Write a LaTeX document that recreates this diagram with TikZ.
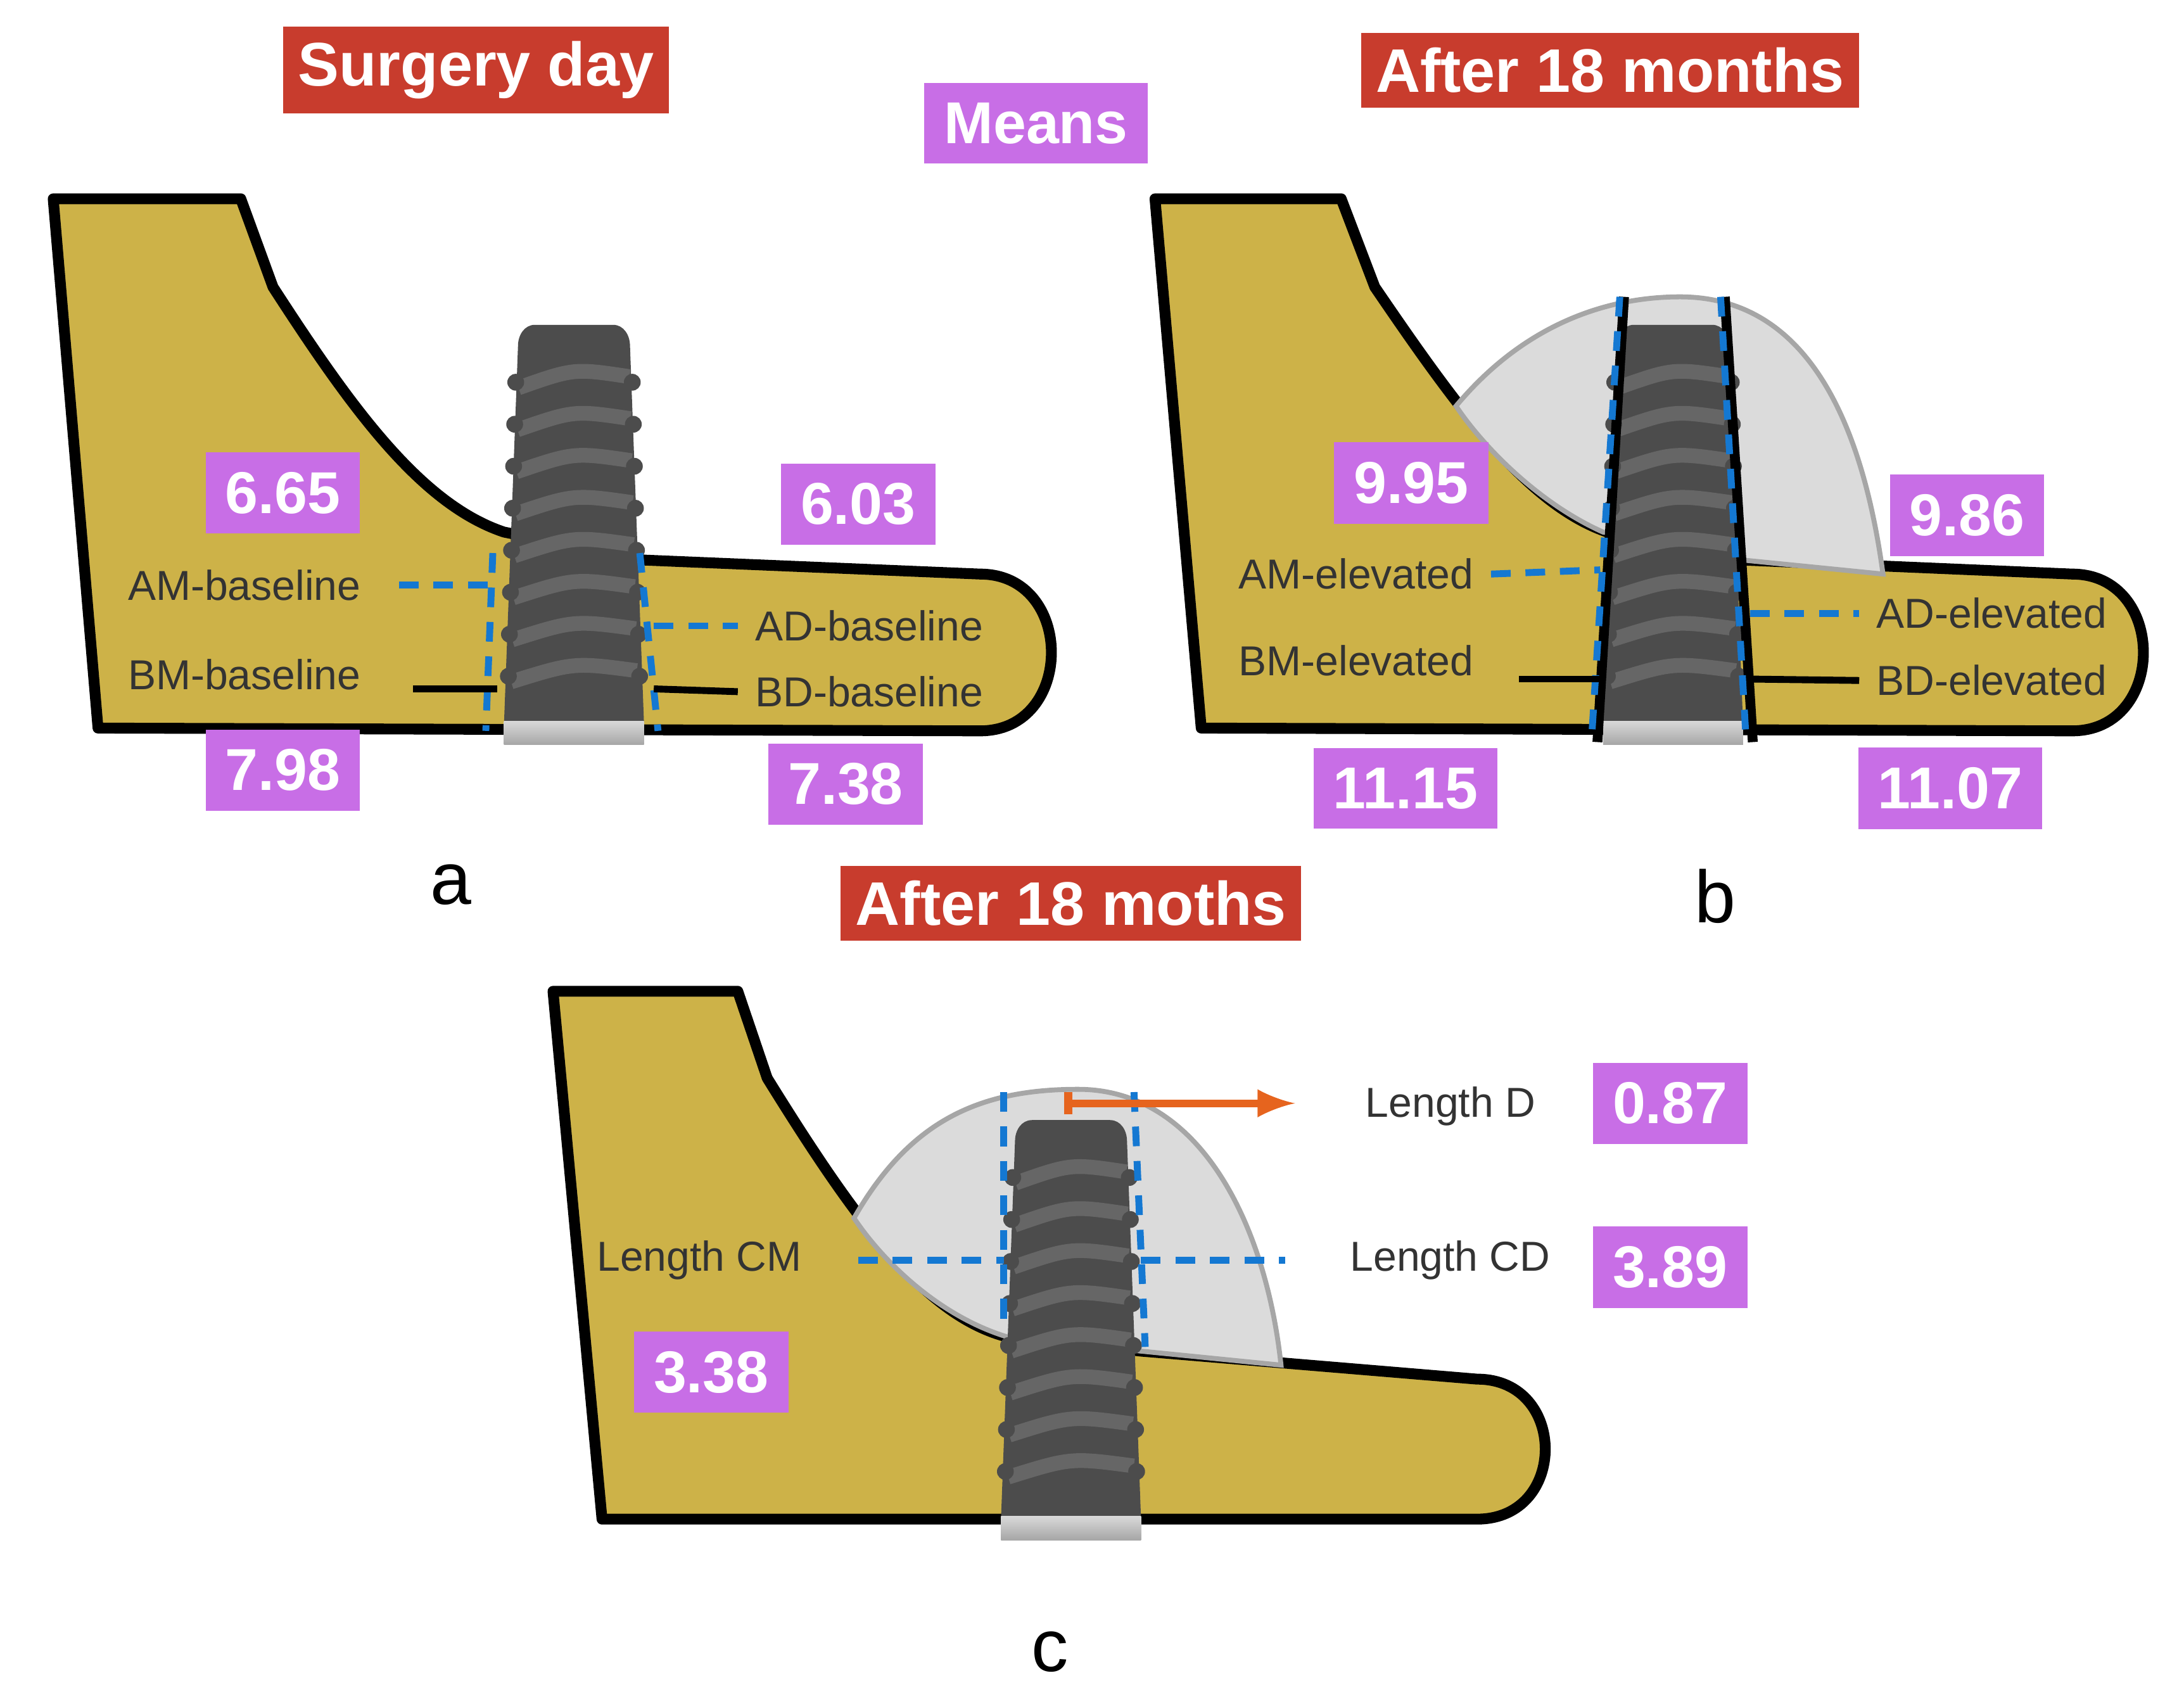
\documentclass[tikz,border=0pt]{standalone}
\usepackage{fontspec}
\setmainfont{Liberation Sans}
\definecolor{orng}{RGB}{230,100,30}
\definecolor{bonec}{RGB}{205,178,72}
\definecolor{purp}{RGB}{200,110,230}
\definecolor{redc}{RGB}{200,60,45}
\definecolor{blued}{RGB}{20,120,210}
\begin{document}
\begin{tikzpicture}[x=0.01cm,y=-0.01cm,
 bone/.style={fill=bonec,draw=black,line width=2.2pt,line join=round},
 mound/.style={fill=gray!28,draw=gray!70,line width=1pt},
 pbox/.style={fill=purp,text=white,font=\fontsize{12}{14}\selectfont\bfseries,inner sep=4pt,minimum height=15pt},
 rbox/.style={fill=redc,text=white,font=\fontsize{12.5}{14}\selectfont\bfseries,inner sep=3pt,minimum height=14pt},
 lbl/.style={font=\fontsize{8.5}{10}\selectfont,text=black!80},
 bd/.style={draw=blued,line width=1.4pt,dash pattern=on 4pt off 3pt},
 bl/.style={draw=black,line width=1.4pt},
 letter/.style={font=\fontsize{15}{17}\selectfont},
 implant/.pic={
   \fill[gray!60!black] (-50,-15) -- (-40,-285) to[out=90,in=180] (-28,-300) -- (28,-300) to[out=0,in=90] (40,-285) -- (50,-15) -- cycle;
   \foreach \t in {-45,-75,...,-280}{
     \draw[gray!80!black,line width=3pt] (-46-\t/40,\t) .. controls (0,\t-14) .. (46+\t/40,\t-8);
     \fill[gray!60!black] (-48-\t/40,\t-4) circle (6);
     \fill[gray!60!black] (48+\t/40,\t-4) circle (6);
   }
   \shade[top color=gray!30,bottom color=gray!70] (-50,-17) rectangle (50,0);
 }]
\useasboundingbox (0,0) rectangle (1560,1217);
% ---------- panel a
\draw[bone] (38,142) -- (172,142) -- (195,205) .. controls (250,290) and (300,360) .. (360,380) -- (460,400) -- (700,410) .. controls (768,410) and (768,522) .. (700,522) -- (70,520) -- cycle;
\pic at (410,532) {implant};
\coordinate (a1) at (352,395); \coordinate (a2) at (347,522);
\coordinate (a3) at (457,395); \coordinate (a4) at (470,522);
\draw[bd] (a1)--(a2); \draw[bd] (a3)--(a4);
\node[lbl,anchor=east] (amb) at (270,418) {AM-baseline};
\node[lbl,anchor=east] (bmb) at (270,482) {BM-baseline};
\node[lbl,anchor=west] (adb) at (527,447) {AD-baseline};
\node[lbl,anchor=west] (bdb) at (527,494) {BD-baseline};
\coordinate (a5) at (355,418); \coordinate (a6) at (355,492);
\coordinate (a7) at (467,447); \coordinate (a8) at (467,492);
\draw[bd] (285,418) -- (a5); \draw[bd] (a7) -- (adb.west);
\draw[bl] (295,492) -- (a6); \draw[bl] (a8) -- (bdb.west);
\node[pbox] (n1) at (202,352) {6.65};
\node[pbox] (n2) at (613,360) {6.03};
\node[pbox] (n3) at (202,550) {7.98};
\node[pbox] (n4) at (604,560) {7.38};
\node[rbox] (t1) at (340,50) {Surgery day};
\node[pbox] (t2) at (740,88) {Means};
\node[letter] (la) at (322,632) {a};
% ---------- panel b
\draw[bone] (825,142) -- (958,142) -- (982,205) .. controls (1040,290) and (1090,360) .. (1148,380) -- (1245,400) -- (1480,410) .. controls (1548,410) and (1548,522) .. (1480,522) -- (858,520) -- cycle;
\draw[mound] (1040,290) .. controls (1090,230) and (1150,212) .. (1200,212) .. controls (1290,212) and (1330,300) .. (1345,410) -- (1245,400) -- (1145,380) .. controls (1100,360) and (1060,320) .. (1040,290) -- cycle;
\pic at (1195,532) {implant};
\draw[black,line width=2pt] (1141,530) -- (1160,212);
\draw[black,line width=2pt] (1252,530) -- (1232,212);
\draw[bd] (1157,212) -- (1137,525); \draw[bd] (1229,212) -- (1247,525);
\node[lbl,anchor=east] (ame) at (1065,410) {AM-elevated};
\node[lbl,anchor=east] (bme) at (1065,472) {BM-elevated};
\node[lbl,anchor=west] (ade) at (1328,438) {AD-elevated};
\node[lbl,anchor=west] (bde) at (1328,486) {BD-elevated};
\coordinate (b5) at (1143,407); \coordinate (b6) at (1143,485);
\coordinate (b7) at (1250,438); \coordinate (b8) at (1250,485);
\draw[bd] (ame.east) -- (b5); \draw[bd] (b7) -- (ade.west);
\draw[bl] (1085,485) -- (b6); \draw[bl] (b8) -- (bde.west);
\node[pbox] (n5) at (1008,345) {9.95};
\node[pbox] (n6) at (1405,368) {9.86};
\node[pbox] (n7) at (1004,563) {11.15};
\node[pbox] (n8) at (1393,563) {11.07};
\node[rbox] (t3) at (1150,50) {After 18 months};
\node[letter] (lb) at (1225,640) {b};
% ---------- panel c
\draw[bone] (395,708) -- (527,708) -- (548,770) .. controls (610,870) and (660,940) .. (720,955) -- (815,965) -- (1055,985) .. controls (1120,985) and (1120,1085) .. (1055,1085) -- (430,1085) -- cycle;
\draw[mound] (610,870) .. controls (650,800) and (700,778) .. (770,778) .. controls (860,778) and (905,880) .. (915,975) -- (815,965) -- (720,955) .. controls (670,940) and (630,900) .. (610,870) -- cycle;
\pic at (765,1100) {implant};
\draw[bd] (717,780) -- (717,948); \draw[bd] (810,780) -- (818,962);
\coordinate (c0) at (763,788); \coordinate (c1) at (925,788);
\draw[orng,line width=1.6pt,-latex] (c0) -- (c1);
\draw[orng,line width=1.6pt] (763,780) -- (763,796);
\node[lbl,anchor=west] (ld) at (963,790) {Length D};
\node[lbl,anchor=east] (lcm) at (585,900) {Length CM};
\node[lbl,anchor=west] (lcd) at (952,900) {Length CD};
\coordinate (c2) at (717,900); \coordinate (c3) at (815,900);
\draw[bd] (613,900) -- (c2); \draw[bd] (c3) -- (918,900);
\node[pbox] (n9) at (1193,788) {0.87};
\node[pbox] (n10) at (1193,905) {3.89};
\node[pbox] (n11) at (508,980) {3.38};
\node[rbox] (t4) at (765,645) {After 18 moths};
\node[letter] (lc) at (750,1180) {c};
\end{tikzpicture}
\end{document}
